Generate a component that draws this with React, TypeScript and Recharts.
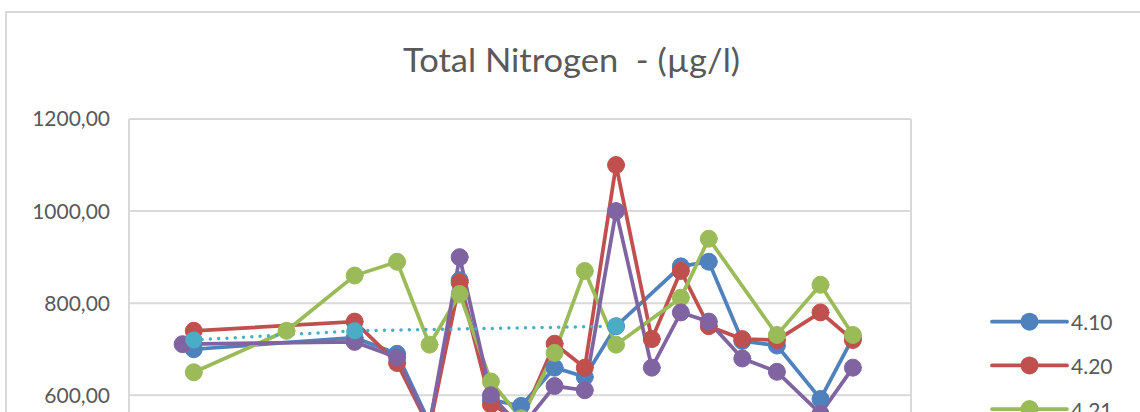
import { CartesianGrid, Line, LineChart, XAxis, YAxis } from "recharts";

// x axis is a date-like axis; positions are in gridline units (0..7)
const X_TICKS = [0, 1, 2, 3, 4, 5, 6, 7];
const Y_TICKS = [0, 200, 400, 600, 800, 1000, 1200];

const X_410 = [0.58, 2.02, 2.4, 2.69, 2.96, 3.24, 3.51, 3.81, 4.08, 4.36, 4.94, 5.19, 5.49, 5.8, 6.19, 6.48];
const Y_410 = [700, 725, 690, 540, 850, 590, 577, 660, 640, 750, 880, 890, 718, 708, 592, 725];

const X_420 = [0.58, 2.02, 2.4, 2.69, 2.96, 3.24, 3.51, 3.81, 4.08, 4.36, 4.68, 4.94, 5.19, 5.49, 5.8, 6.19, 6.48];
const Y_420 = [740, 760, 670, 530, 845, 580, 545, 712, 660, 1100, 722, 870, 750, 722, 720, 780, 720];

const X_421 = [0.58, 1.41, 2.02, 2.4, 2.69, 2.96, 3.24, 3.51, 3.81, 4.08, 4.36, 4.94, 5.19, 5.8, 6.19, 6.48];
const Y_421 = [650, 740, 860, 890, 710, 820, 630, 550, 692, 870, 710, 812, 940, 731, 840, 731];

const X_422 = [0.48, 2.02, 2.4, 2.69, 2.96, 3.24, 3.51, 3.81, 4.08, 4.36, 4.68, 4.94, 5.19, 5.49, 5.8, 6.19, 6.48];
const Y_422 = [711, 716, 682, 535, 900, 600, 530, 620, 611, 1000, 660, 780, 760, 680, 651, 560, 660];

const X_430 = [0.58, 2.02, 4.36];
const Y_430 = [720, 740, 750];

const TEXT = "#595959";
const GRID = "#D9D9D9";
const FONT = "Lato, 'Open Sans', sans-serif";

type Row = { x: number; y: number };

function toRows(xs: number[], ys: number[]): Row[] {
  return xs.map((x, i) => ({ x, y: ys[i] }));
}

const SERIES = [
  { name: "4.10", color: "#4F81BD", rows: toRows(X_410, Y_410), dotted: false },
  { name: "4.20", color: "#C0504D", rows: toRows(X_420, Y_420), dotted: false },
  { name: "4.21", color: "#9BBB59", rows: toRows(X_421, Y_421), dotted: false },
  { name: "4.22", color: "#8064A2", rows: toRows(X_422, Y_422), dotted: false },
  { name: "4.30", color: "#4BACC6", rows: toRows(X_430, Y_430), dotted: true },
];

const formatTick = (v: number) => v.toFixed(2).replace(".", ",");

export default function App() {
  return (
    <div
      style={{
        position: "absolute",
        left: 0,
        top: 0,
        width: 1140,
        height: 412,
        overflow: "hidden",
        background: "#fff",
      }}
    >
      <div
        style={{
          position: "absolute",
          left: 5,
          top: 11,
          width: 1200,
          height: 740,
          border: `2px solid ${GRID}`,
          boxSizing: "border-box",
        }}
      />
      <div style={{ position: "absolute", left: 0, top: 0 }}>
        <LineChart
          width={1160}
          height={760}
          margin={{ top: 119, right: 249, bottom: 58.4, left: 0 }}
        >
          <CartesianGrid stroke={GRID} strokeWidth={2} />
          <XAxis
            dataKey="x"
            type="number"
            domain={[0, 7]}
            ticks={X_TICKS}
            tick={false}
            axisLine={false}
            tickLine={false}
            height={30}
          />
          <YAxis
            type="number"
            domain={[0, 1200]}
            ticks={Y_TICKS}
            tickFormatter={formatTick}
            width={129}
            axisLine={false}
            tickLine={false}
            tickSize={0}
            tickMargin={19}
            tick={{ fill: TEXT, fontSize: 21, fontFamily: FONT }}
          />
          {SERIES.map((s) => (
            <Line
              key={s.name}
              name={s.name}
              data={s.rows}
              dataKey="y"
              type="linear"
              stroke={s.color}
              strokeWidth={s.dotted ? 3.5 : 3.75}
              strokeDasharray={s.dotted ? "0 8.3" : undefined}
              strokeLinecap="round"
              dot={{ r: 8.5, fill: s.color, stroke: s.color, strokeWidth: 1 }}
              activeDot={false}
              isAnimationActive={false}
            />
          ))}
        </LineChart>
      </div>
      <svg
        width={1140}
        height={412}
        style={{ position: "absolute", left: 0, top: 0, pointerEvents: "none" }}
      >
        <text
          x={571.5}
          y={72}
          textAnchor="middle"
          fontFamily={FONT}
          fontSize={33}
          fill={TEXT}
          textLength={337}
          lengthAdjust="spacingAndGlyphs"
          style={{ whiteSpace: "pre" }}
        >
          {"Total Nitrogen  - (µg/l)"}
        </text>
        {SERIES.map((s, i) => {
          const cy = 321.7 + i * 43.7;
          return (
            <g key={s.name}>
              <line
                x1={992}
                x2={1067}
                y1={cy}
                y2={cy}
                stroke={s.color}
                strokeWidth={3.75}
                strokeDasharray={s.dotted ? "0 8.3" : undefined}
                strokeLinecap="round"
              />
              <circle cx={1029.5} cy={cy} r={9} fill={s.color} />
              <text
                x={1071}
                y={cy}
                dominantBaseline="central"
                fontFamily={FONT}
                fontSize={21}
                fill={TEXT}
              >
                {s.name}
              </text>
            </g>
          );
        })}
      </svg>
    </div>
  );
}
